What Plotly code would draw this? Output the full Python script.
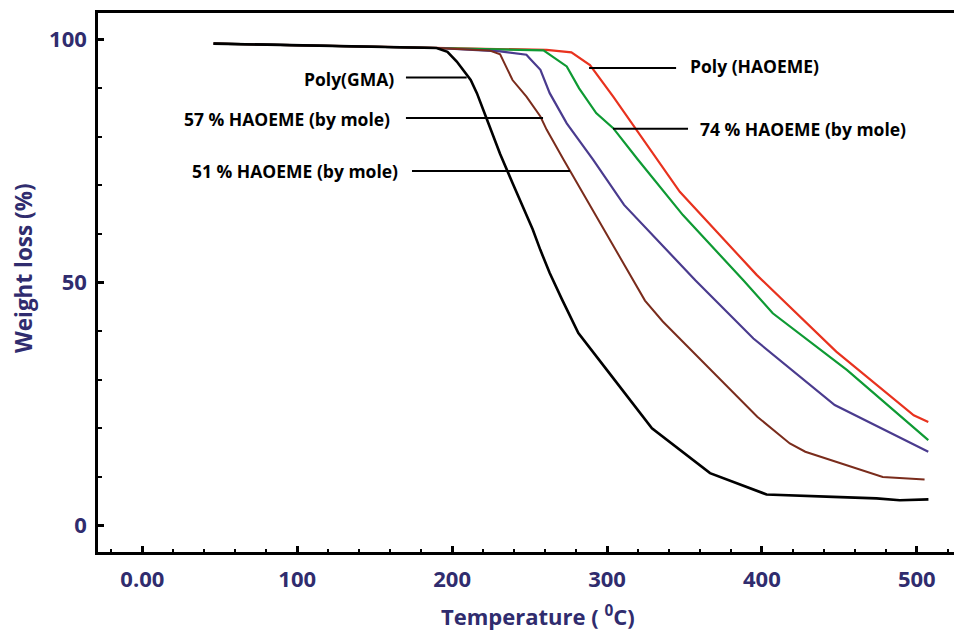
import plotly.graph_objects as go

# Thermogravimetric curves: temperature (°C) vs remaining weight (%)
t_gma = [46, 100, 150, 190, 197, 203, 212, 216, 222, 231, 239, 246, 252, 257, 263, 271, 281.5, 300, 329, 366.5, 403, 446, 474, 489, 507.5]
w_gma = [99.2, 98.9, 98.6, 98.3, 97.5, 95.5, 91.7, 89.0, 84.0, 76.5, 70.5, 65.5, 61.0, 56.7, 52.0, 46.5, 39.6, 32.0, 20.0, 10.8, 6.4, 5.9, 5.6, 5.2, 5.4]

t_51 = [46, 100, 150, 190, 224, 231, 239, 248, 257, 261, 272, 324.5, 336, 397, 418, 428, 478, 505]
w_51 = [99.2, 98.9, 98.6, 98.3, 97.8, 97.0, 91.7, 88.3, 84.2, 81.5, 75.3, 46.3, 42.0, 22.4, 16.9, 15.2, 10.0, 9.5]

t_57 = [46, 100, 150, 190, 231, 248, 250, 257, 263, 274, 291, 311, 357, 377, 394.5, 447, 507.4]
w_57 = [99.2, 98.9, 98.6, 98.3, 97.6, 96.9, 96.2, 93.8, 89.0, 82.8, 75.3, 66.0, 50.5, 44.0, 38.5, 24.8, 15.2]

t_74 = [46, 100, 150, 190, 259, 270, 274, 282, 293, 304, 320, 349, 388, 407, 455, 507.4]
w_74 = [99.2, 98.9, 98.6, 98.3, 97.8, 95.5, 94.5, 90.0, 84.9, 81.8, 75.3, 63.9, 50.5, 43.7, 32.0, 17.6]

t_hao = [46, 100, 150, 190, 261, 277, 289, 304, 319, 332, 347, 396.6, 448, 498, 507.4]
w_hao = [99.2, 98.9, 98.6, 98.3, 97.9, 97.4, 94.8, 88.3, 81.5, 75.5, 68.7, 51.6, 35.8, 22.7, 21.3]

x_tickvals = [0, 100, 200, 300, 400, 500]
x_ticktext = ["0.00", "100", "200", "300", "400", "500"]
y_tickvals = [0, 50, 100]
y_ticktext = ["0", "50", "100"]

# Curve labels: text, text anchor point, leader line (x0, x1, y)
labels = [
    ("Poly(GMA)", 163.9, 92.0, "right", 170.2, 209.4, 92.2),
    ("57 % HAOEME (by mole)", 161.2, 83.7, "right", 170.2, 258.7, 83.9),
    ("51 % HAOEME (by mole)", 166.4, 72.9, "right", 174.1, 276.1, 73.0),
    ("Poly (HAOEME)", 352.3, 94.6, "left", 288.4, 344.6, 94.2),
    ("74 % HAOEME (by mole)", 358.8, 81.7, "left", 303.9, 352.3, 81.7),
]

NAVY = "#302C6E"
FONT = "Open Sans"

fig = go.Figure()
series = [
    ("Poly(GMA)", t_gma, w_gma, "#000000", 2.6),
    ("51 % HAOEME (by mole)", t_51, w_51, "#7A2C1C", 2.0),
    ("57 % HAOEME (by mole)", t_57, w_57, "#4A3B8E", 2.2),
    ("74 % HAOEME (by mole)", t_74, w_74, "#0E9A33", 2.2),
    ("Poly (HAOEME)", t_hao, w_hao, "#E8321E", 2.2),
]
for name, xs, ys, color, width in reversed(series):
    fig.add_trace(go.Scatter(x=xs, y=ys, mode="lines", name=name,
                             line=dict(color=color, width=width)))

for text, tx, ty, anchor, x0, x1, ly in labels:
    fig.add_shape(type="line", x0=x0, x1=x1, y0=ly, y1=ly, xref="x", yref="y",
                  line=dict(color="#000000", width=2))
    fig.add_annotation(x=tx, y=ty, text=text, showarrow=False, xanchor=anchor,
                       yanchor="middle", xref="x", yref="y",
                       font=dict(family=FONT, size=17.5, color="#000000", weight="bold"))

# Axis titles
fig.add_annotation(text="Temperature ( <sup>0</sup>C)", xref="paper", yref="paper",
                   x=(538 - 98) / (954 - 98), y=-(615 - 552) / (552 - 13),
                   xanchor="center", yanchor="middle", showarrow=False,
                   font=dict(family=FONT, size=22, color=NAVY, weight="bold"))
fig.add_annotation(text="Weight loss (%)", xref="paper", yref="paper",
                   x=-(98 - 23) / (954 - 98), y=(552 - 268) / (552 - 13),
                   xanchor="center", yanchor="middle", showarrow=False, textangle=-90,
                   font=dict(family=FONT, size=22.5, color=NAVY, weight="bold"))

fig.update_layout(
    width=954, height=631,
    margin=dict(l=98, r=0, t=13, b=79),
    paper_bgcolor="white", plot_bgcolor="white",
    showlegend=False,
    xaxis=dict(range=[-28.6, 524], tickvals=x_tickvals, ticktext=x_ticktext,
               showgrid=False, zeroline=False, showline=True, linecolor="#000000",
               linewidth=2.5, mirror=True, ticks="inside", ticklen=6, tickwidth=2.5,
               tickcolor="#000000",
               minor=dict(dtick=20, tick0=0, ticks="inside", ticklen=3, tickwidth=1.5,
                          tickcolor="#000000", showgrid=False),
               tickfont=dict(family=FONT, size=22, color=NAVY, weight="bold"),
               ticklabelstandoff=6),
    yaxis=dict(range=[-5.44, 105.5], tickvals=y_tickvals, ticktext=y_ticktext,
               showgrid=False, zeroline=False, showline=True, linecolor="#000000",
               linewidth=2.5, ticks="inside", ticklen=6, tickwidth=2.5,
               tickcolor="#000000",
               minor=dict(dtick=10, tick0=0, ticks="inside", ticklen=4, tickwidth=1.5,
                          tickcolor="#000000", showgrid=False),
               tickfont=dict(family=FONT, size=22, color=NAVY, weight="bold"),
               ticklabelstandoff=4),
)

fig.write_html("out.html")
